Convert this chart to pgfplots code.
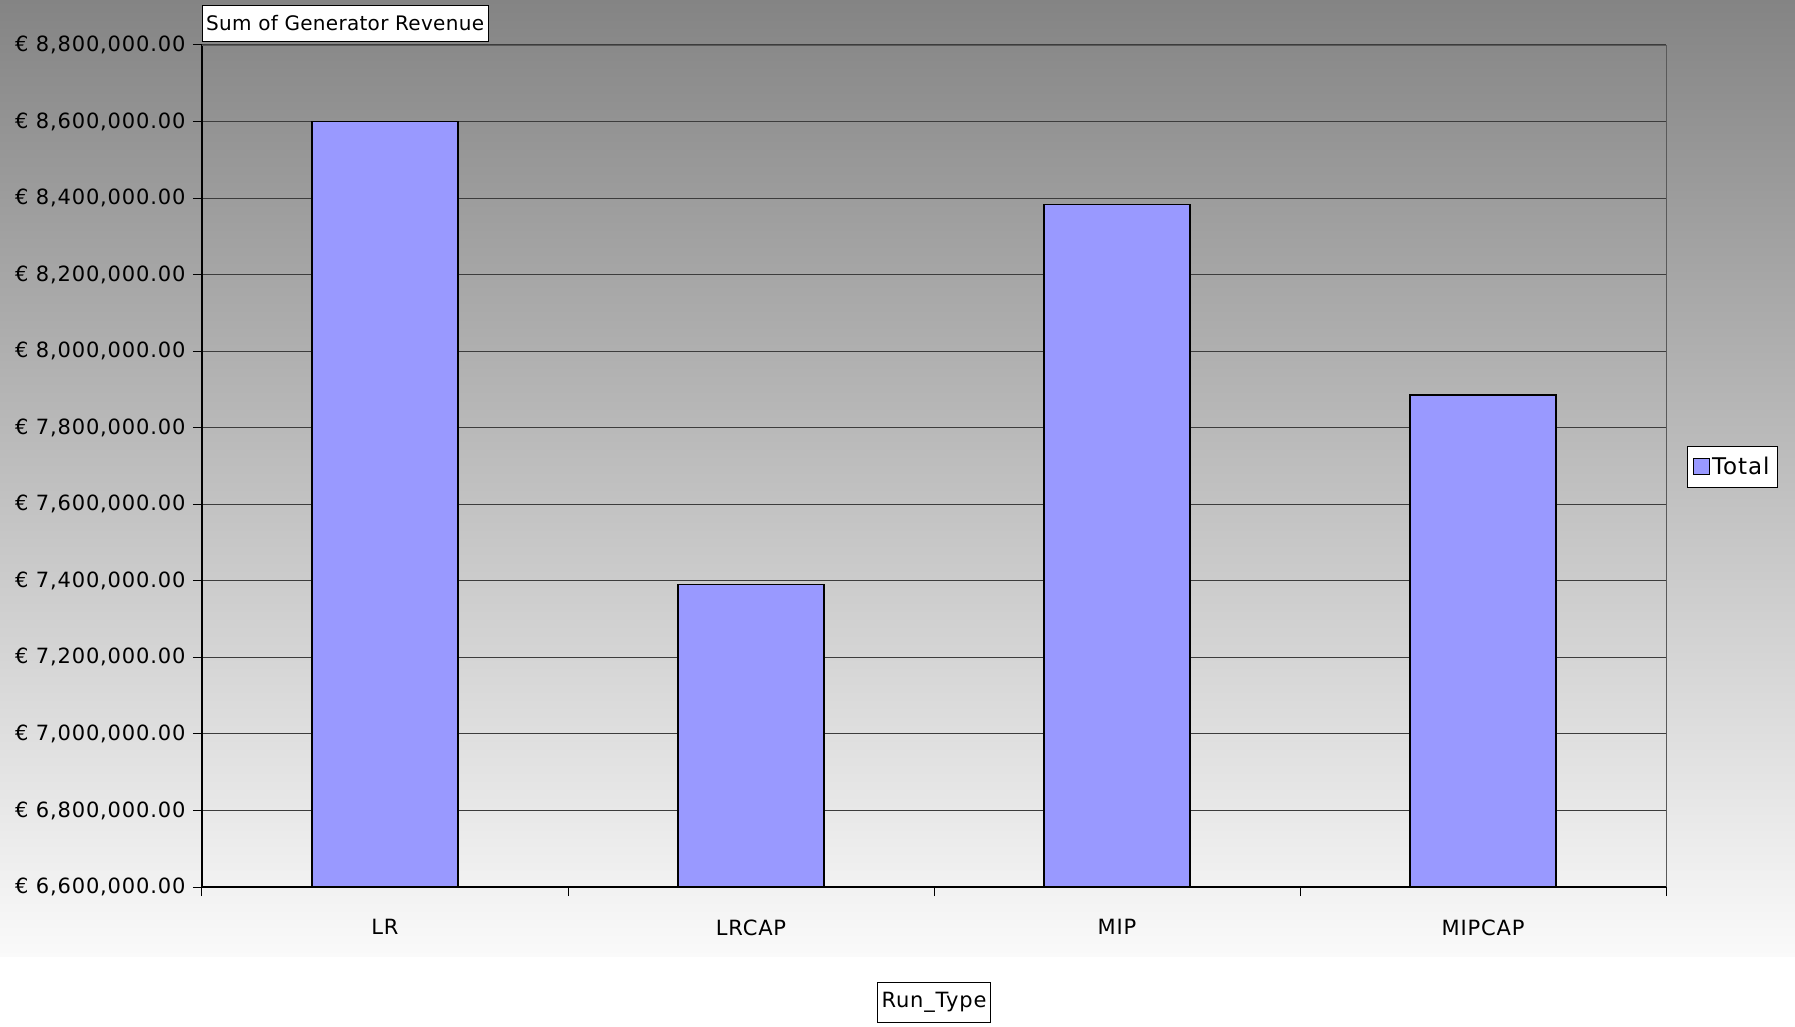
\documentclass[border=0pt]{standalone}
\usepackage{fontspec}
\setmainfont{DejaVu Sans}
\newfontfamily\tickfont[LetterSpace=4]{DejaVu Sans}
\newfontfamily\titlefont[LetterSpace=1.5]{DejaVu Sans}
\usepackage{pgfplots}
\pgfplotsset{compat=1.18}
\definecolor{barfill}{RGB}{153,153,255}
\definecolor{bgtop}{RGB}{132,132,132}
\definecolor{bgbot}{RGB}{250,250,250}
\definecolor{gridc}{RGB}{60,60,60}
\begin{document}
\begin{tikzpicture}[x=1pt,y=1pt,font=\fontsize{20}{24}\selectfont]
\useasboundingbox (-202,-139) rectangle (1593,887);
\fill[white] (-202,-139) rectangle (1593,887);
\shade[top color=bgtop, bottom color=bgbot] (-202,-69) rectangle (1593,887);
\begin{axis}[
  name=ax,
  at={(0,0)}, anchor=south west,
  scale only axis, width=1464pt, height=842pt,
  xmin=-0.5, xmax=3.5,
  ymin=6600000, ymax=8800000,
  axis x line*=bottom, axis y line*=left,
  axis line style={black, line width=1.2pt},
  x axis line style={-}, y axis line style={-},
  xtick={0,1,2,3},
  xticklabels={LR,LRCAP,MIP,MIPCAP},
  major x tick style={draw=none},
  minor xtick={-0.5,0.5,1.5,2.5,3.5},
  minor x tick style={black, line width=1pt},
  minor tick length=9pt,
  ytick={6600000,6800000,7000000,7200000,7400000,7600000,7800000,8000000,8200000,8400000,8600000,8800000},
  tick align=outside,
  major tick length=9pt,
  y tick style={black, line width=1pt},
  scaled y ticks=false,
  /pgf/number format/assume math mode=true,
  yticklabel={€ \pgfmathprintnumber[fixed, fixed zerofill, precision=2, 1000 sep={,}]{\tick}},
  yticklabel style={xshift=-4pt, font=\tickfont\fontsize{21}{25}\selectfont},
  xticklabel style={yshift=-20pt, font=\tickfont\fontsize{21}{25}\selectfont},
  ymajorgrids,
  grid style={gridc, line width=1pt},
  ybar, bar width=0.4, bar shift=0pt,
  clip=true,
  legend style={at={(rel axis cs:1.0143,0.524)}, anchor=north west, draw=black, fill=white, inner xsep=6pt, inner ysep=9pt, font=\tickfont\fontsize{23}{27}\selectfont, legend cell align=left},
  legend image code/.code={\draw[#1, draw=black, line width=1pt] (0pt,-8pt) rectangle (16pt,8pt);},
]
\addplot[fill=barfill, draw=black, line width=1.5pt] coordinates {(0,8600000) (1,7390000) (2,8383000) (3,7886000)};
\addlegendentry{Total}
\end{axis}
\draw[gray!70!black, line width=0.8pt] (ax.north west) -- (ax.north east) -- (ax.south east);
\node[draw=black, fill=white, anchor=south west, inner xsep=4pt, inner ysep=3pt, minimum height=36pt, font=\titlefont\fontsize{20}{24}\selectfont] at ([yshift=4pt]ax.north west) {Sum of Generator Revenue};
\node[draw=black, fill=white, inner xsep=4pt, minimum width=106pt, minimum height=40pt, font=\tickfont\fontsize{21}{25}\selectfont] at ([yshift=-115pt]ax.south) {Run\_Type};
\end{tikzpicture}
\end{document}
